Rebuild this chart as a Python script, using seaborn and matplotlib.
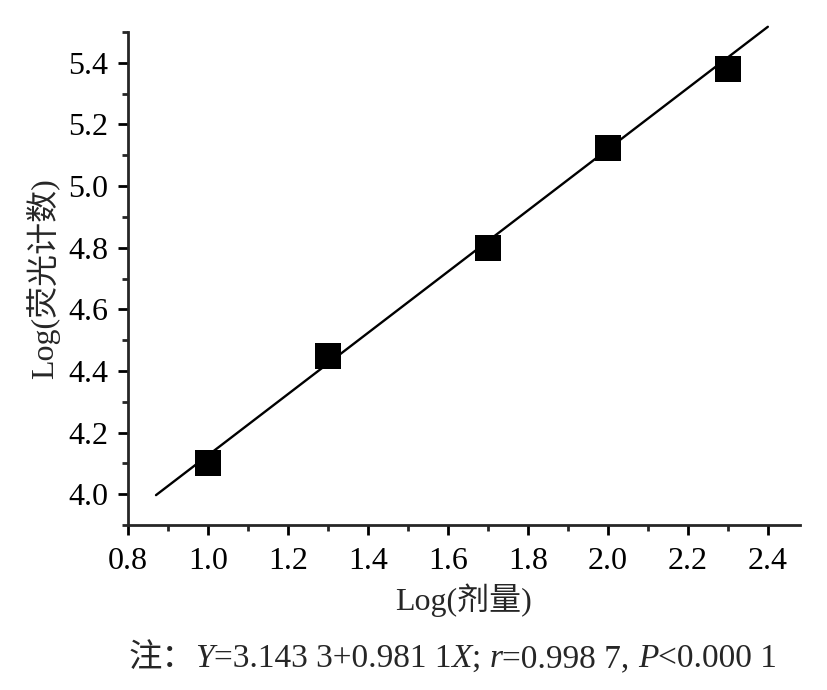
import seaborn as sns
import matplotlib.pyplot as plt
from matplotlib.ticker import MultipleLocator

# data
log_dose = [1.0, 1.3, 1.7, 2.0, 2.3]
log_fluor = [4.10, 4.45, 4.80, 5.125, 5.38]

# fitted line end points
fit_x = [0.87, 2.40]
fit_y = [3.997, 5.517]

x_ticks = [0.8, 1.0, 1.2, 1.4, 1.6, 1.8, 2.0, 2.2, 2.4]
y_ticks = [4.0, 4.2, 4.4, 4.6, 4.8, 5.0, 5.2, 5.4]

sns.set_style("ticks")
plt.rcParams['font.family'] = ['Liberation Serif', 'Noto Sans CJK SC']

fig = plt.figure(figsize=(8.28, 6.9), dpi=100)
ax = fig.add_axes([0.1546, 0.2391, 0.8114, 0.7145])

ax.plot(fit_x, fit_y, color="black", linewidth=1.7, zorder=2, clip_on=False)
sns.scatterplot(x=log_dose, y=log_fluor, marker="s", s=350,
                color="black", edgecolor="black", linewidth=0, ax=ax, zorder=3)

ax.set_xlim(0.8, 2.48)
ax.set_ylim(3.9, 5.5)
ax.set_xticks(x_ticks)
ax.set_yticks(y_ticks)
ax.set_xticklabels([f"{v:.1f}" for v in x_ticks])
ax.set_yticklabels([f"{v:.1f}" for v in y_ticks])
ax.xaxis.set_minor_locator(MultipleLocator(0.1))
ax.yaxis.set_minor_locator(MultipleLocator(0.1))

for side in ["top", "right"]:
    ax.spines[side].set_visible(False)
for side in ["left", "bottom"]:
    ax.spines[side].set_linewidth(2.0)

ax.tick_params(which="major", direction="out", length=7, width=2.0,
               labelsize=23, colors="black")
ax.tick_params(axis="x", which="major", pad=9)
ax.tick_params(axis="y", which="major", pad=7)
ax.tick_params(which="minor", direction="out", length=4.5, width=2.0)

ax.set_xlabel("Log(剂量)", fontsize=23, labelpad=5)
ax.set_ylabel("Log(荧光计数)", fontsize=23, labelpad=6)

# note line with italic variables
fs = 24
pieces = [
    ("注：", "normal"),
    ("Y", "italic"),
    ("=3.143 3+0.981 1", "normal"),
    ("X", "italic"),
    ("; ", "normal"),
    ("r", "italic"),
    ("=0.998 7, ", "normal"),
    ("P", "italic"),
    ("<0.000 1", "normal"),
]
prev = fig.text(0.155, 0.033, pieces[0][0], fontsize=fs, ha="left", va="baseline")
for txt, style in pieces[1:]:
    prev = ax.annotate(txt, xy=(1, 0), xycoords=prev, xytext=(0, 0),
                       textcoords="offset points", ha="left", va="bottom",
                       fontsize=fs, style=style, annotation_clip=False)

fig.savefig("out.png", dpi=100)
